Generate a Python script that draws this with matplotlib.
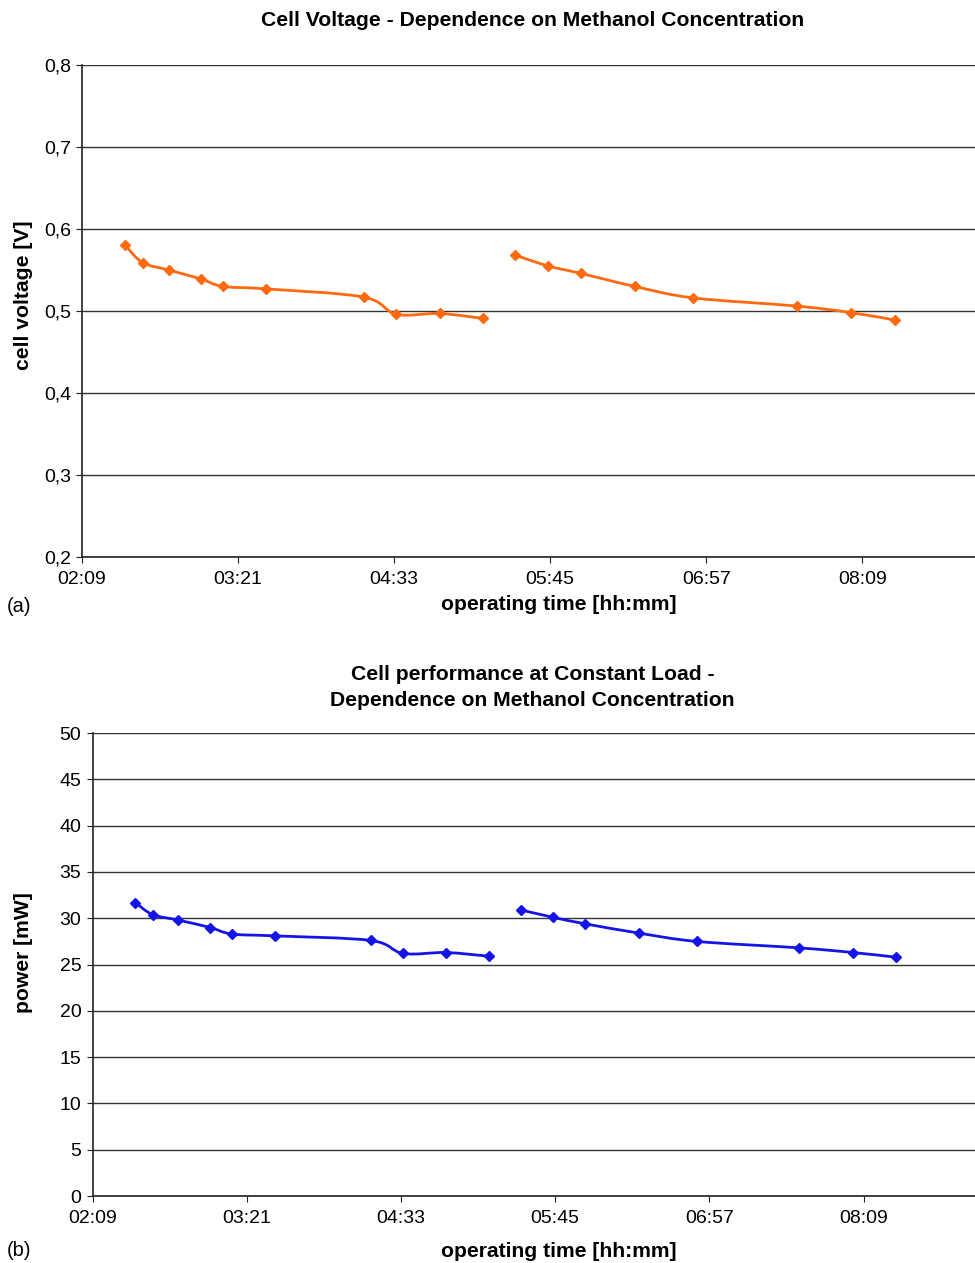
import matplotlib
matplotlib.use("Agg")
import matplotlib.pyplot as plt
from matplotlib.patches import PathPatch
from matplotlib.path import Path
from matplotlib.ticker import FuncFormatter

plt.rcParams["font.family"] = ["Liberation Sans", "DejaVu Sans"]

# operating time of each measurement, two runs separated by a gap
times_run1 = ["02:29", "02:37", "02:49", "03:04", "03:14", "03:34", "04:19", "04:34", "04:54", "05:14"]
times_run2 = ["05:29", "05:44", "05:59", "06:24", "06:51", "07:39", "08:04", "08:24"]

voltage_run1 = [0.580, 0.559, 0.550, 0.539, 0.530, 0.527, 0.517, 0.496, 0.497, 0.491]
voltage_run2 = [0.568, 0.555, 0.546, 0.530, 0.516, 0.506, 0.498, 0.489]

power_run1 = [31.7, 30.4, 29.8, 29.0, 28.3, 28.1, 27.6, 26.2, 26.3, 25.9]
power_run2 = [30.9, 30.1, 29.4, 28.4, 27.5, 26.8, 26.3, 25.8]

x_ticks = ["02:09", "03:21", "04:33", "05:45", "06:57", "08:09"]


def to_min(s):
    h, m = s.split(":")
    return int(h) * 60 + int(m)


def hhmm(v, _pos=None):
    v = int(round(v))
    return f"{v // 60:02d}:{v % 60:02d}"


def smooth_line(ax, xs, ys, color):
    # Excel-style smoothed line: Catmull-Rom segments as cubic Beziers
    pts = list(zip(xs, ys))
    verts = [pts[0]]
    codes = [Path.MOVETO]
    n = len(pts)
    for i in range(n - 1):
        p0 = pts[max(i - 1, 0)]
        p1 = pts[i]
        p2 = pts[i + 1]
        p3 = pts[min(i + 2, n - 1)]
        c1 = (p1[0] + (p2[0] - p0[0]) / 6, p1[1] + (p2[1] - p0[1]) / 6)
        c2 = (p2[0] - (p3[0] - p1[0]) / 6, p2[1] - (p3[1] - p1[1]) / 6)
        verts += [c1, c2, p2]
        codes += [Path.CURVE4] * 3
    ax.add_patch(PathPatch(Path(verts, codes), facecolor="none", edgecolor=color,
                           linewidth=2.0, capstyle="round", joinstyle="round"))
    ax.plot(xs, ys, linestyle="none", marker="D", markersize=4.8, color=color)


def style_axes(ax, ylim, yticks, yfmt):
    ax.set_xlim(to_min("02:09"), to_min("02:09") + 412)
    ax.set_ylim(*ylim)
    ax.set_xticks([to_min(t) for t in x_ticks])
    ax.xaxis.set_major_formatter(FuncFormatter(hhmm))
    ax.set_yticks(yticks)
    ax.yaxis.set_major_formatter(FuncFormatter(yfmt))
    ax.grid(axis="y", color="#333333", linewidth=1.0)
    ax.set_axisbelow(True)
    for side in ("top", "right"):
        ax.spines[side].set_visible(False)
    for side in ("left", "bottom"):
        ax.spines[side].set_color("#222222")
        ax.spines[side].set_linewidth(1.2)
    ax.tick_params(axis="both", labelsize=14, direction="out", length=4,
                   color="#222222", pad=4)
    ax.tick_params(axis="x", pad=6)


fig = plt.figure(figsize=(9.75, 12.63), dpi=100)
bold = dict(fontsize=15.2, fontweight="bold", ha="center", va="center")

# (a) cell voltage
ax1 = fig.add_axes([0.0841, 0.559, 0.9159, 0.3895])
for t, v in ((times_run1, voltage_run1), (times_run2, voltage_run2)):
    smooth_line(ax1, [to_min(s) for s in t], v, "#FF6A10")
style_axes(ax1, (0.2, 0.8), [0.2, 0.3, 0.4, 0.5, 0.6, 0.7, 0.8],
           lambda v, p: f"{v:.1f}".replace(".", ","))
fig.text(0.546, 0.984, "Cell Voltage - Dependence on Methanol Concentration", **bold)
fig.text(0.024, 0.766, "cell voltage [V]", rotation=90, **bold)
fig.text(0.573, 0.521, "operating time [hh:mm]", **bold)
fig.text(0.019, 0.520, "(a)", ha="center", va="center", fontsize=14.5)

# (b) power at constant load
ax2 = fig.add_axes([0.0949, 0.053, 0.9051, 0.3666])
for t, p in ((times_run1, power_run1), (times_run2, power_run2)):
    smooth_line(ax2, [to_min(s) for s in t], p, "#1414E6")
style_axes(ax2, (0, 50), list(range(0, 51, 5)), lambda v, p: f"{v:.0f}")
fig.text(0.546, 0.4555, "Cell performance at Constant Load -\nDependence on Methanol Concentration",
         linespacing=1.5, **bold)
fig.text(0.024, 0.246, "power [mW]", rotation=90, **bold)
fig.text(0.573, 0.009, "operating time [hh:mm]", **bold)
fig.text(0.019, 0.010, "(b)", ha="center", va="center", fontsize=14.5)

fig.savefig("out.png", dpi=100)
